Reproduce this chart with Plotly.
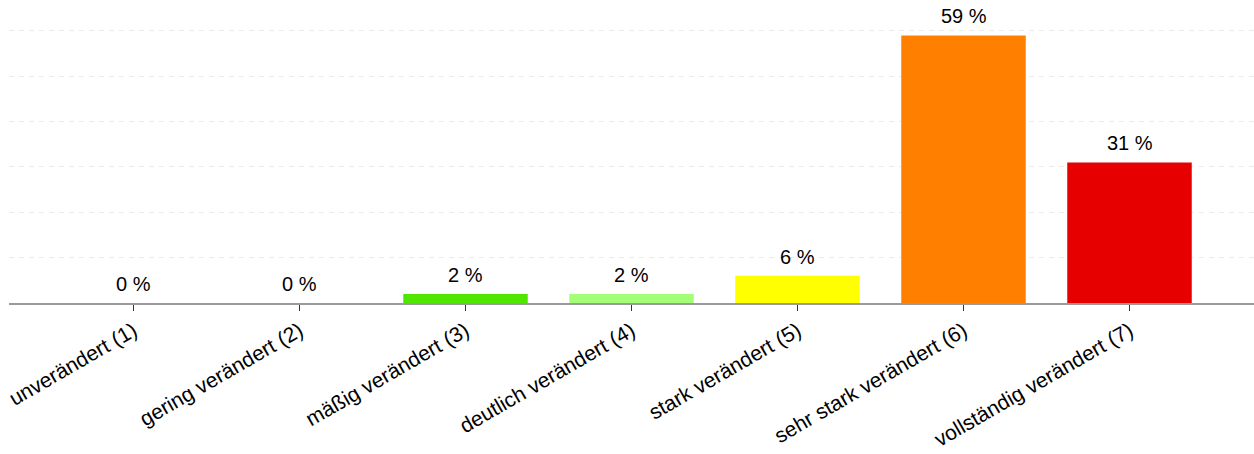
import plotly.graph_objects as go

categories = [
    "unverändert (1)",
    "gering verändert (2)",
    "mäßig verändert (3)",
    "deutlich verändert (4)",
    "stark verändert (5)",
    "sehr stark verändert (6)",
    "vollständig verändert (7)",
]
values = [0, 0, 2, 2, 6, 59, 31]
labels = ["0 %", "0 %", "2 %", "2 %", "6 %", "59 %", "31 %"]
colors = ["#00a000", "#2cc800", "#4fe600", "#a2ff76", "#ffff00", "#ff8000", "#e60000"]

FONT = "Liberation Sans, Arial, sans-serif"

fig = go.Figure(go.Bar(
    x=categories,
    y=values,
    width=0.75,
    marker=dict(color=colors, line=dict(width=0)),
    hoverinfo="skip",
))

for cat, val, lab in zip(categories, values, labels):
    fig.add_annotation(
        x=cat, y=val, text=lab, showarrow=False,
        yanchor="bottom", yshift=7, borderpad=0,
        font=dict(size=20, color="#000000", family=FONT),
    )

fig.update_xaxes(
    range=[-0.75, 6.75],
    tickangle=-30,
    automargin=False,
    ticks="outside", ticklen=6, tickcolor="#333333", tickwidth=1,
    tickfont=dict(size=21, color="#000000", family=FONT),
    showline=True, linecolor="#9a9a9a", linewidth=1.5,
    showgrid=False,
)
fig.update_yaxes(
    range=[0, 66.8],
    dtick=10,
    automargin=False,
    showticklabels=False,
    showgrid=True, gridcolor="#ebebeb", griddash="5px,5px", gridwidth=1,
    zeroline=False,
)

fig.update_layout(
    width=1254, height=454,
    margin=dict(l=9, r=0, t=0, b=151),
    paper_bgcolor="white",
    plot_bgcolor="white",
    showlegend=False,
    font=dict(family=FONT),
)

# drop the default 8px page margin so the figure sits at the window corner
fig.write_html(
    "out.html",
    config={"displayModeBar": False},
    post_script="document.body.style.margin='0';",
)
